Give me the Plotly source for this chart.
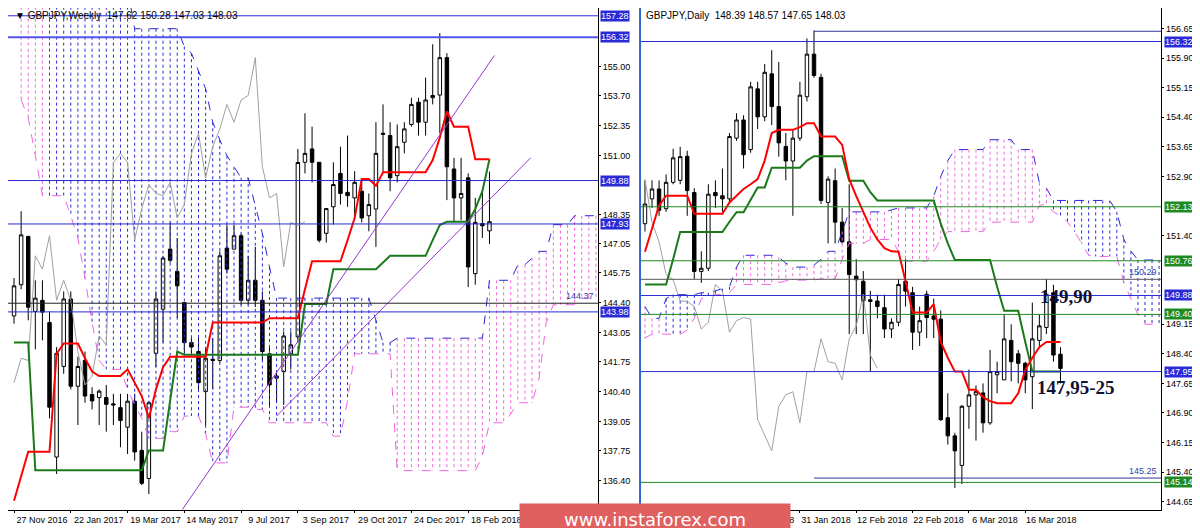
import plotly.graph_objects as go

# ---------------- weekly GBPJPY (left panel) ----------------
w_open = [143.8, 145.2, 147.37, 144.0, 144.5, 143.5, 137.46, 141.53, 144.56, 140.64,
          141.8, 140.27, 140.13, 140.13, 139.85, 139.68, 138.8, 139.97, 137.76, 136.5,
          142.12, 144.1, 146.8, 145.8, 144.4, 142.6, 142.2, 140.4, 141.85, 141.8,
          146.85, 146.8, 147.4, 144.5, 145.4, 144.5, 142.1, 141.0, 141.3, 142.1,
          142.86, 150.7, 151.3, 150.7, 147.51, 148.7, 150.2, 149.35, 149.1, 149.4,
          148.3, 148.6, 151.95, 151.9, 150.1, 151.6, 152.4, 153.4, 152.5, 153.6,
          153.72, 155.4, 150.4, 149.1, 150.0, 145.7, 147.95, 147.62]
w_high = [145.5, 148.5, 147.4, 145.4, 145.4, 144.0, 142.4, 144.9, 144.9, 141.97,
          142.2, 140.6, 140.5, 140.7, 140.3, 140.3, 140.3, 140.3, 138.6, 139.97,
          144.9, 146.5, 148.0, 147.3, 144.4, 142.8, 142.8, 142.4, 142.8, 146.7,
          147.9, 147.9, 147.5, 146.5, 146.9, 144.9, 142.4, 141.3, 143.1, 143.1,
          151.3, 152.9, 152.3, 150.7, 148.6, 150.7, 151.4, 151.9, 150.3, 149.9,
          149.3, 152.5, 153.3, 152.5, 152.4, 152.5, 153.6, 153.6, 154.5, 156.0,
          156.5, 155.6, 150.9, 150.9, 150.2, 149.1, 149.4, 150.28]
w_low = [143.45, 145.0, 143.6, 142.3, 142.7, 139.2, 136.7, 141.2, 140.5, 138.9,
         139.9, 139.6, 138.9, 138.6, 138.9, 137.9, 137.6, 137.3, 136.2, 135.8,
         141.5, 142.6, 146.2, 143.7, 142.1, 142.1, 140.5, 138.9, 140.5, 141.7,
         145.7, 146.8, 144.3, 144.3, 144.2, 141.8, 139.8, 139.9, 139.8, 141.4,
         142.7, 150.2, 149.8, 147.1, 147.1, 147.9, 148.8, 148.7, 148.2, 148.0,
         147.6, 146.9, 150.2, 149.4, 149.8, 151.1, 152.3, 151.9, 151.9, 153.3,
         152.0, 149.0, 148.0, 148.1, 145.1, 145.2, 147.3, 147.03]
w_close = [145.15, 147.44, 144.19, 144.6, 143.97, 139.7, 142.12, 144.56, 140.64, 141.53,
           140.2, 139.98, 140.42, 139.83, 139.8, 139.1, 139.97, 137.69, 136.28, 139.9,
           144.56, 146.4, 146.3, 145.15, 142.6, 142.4, 140.8, 141.9, 141.8, 146.5,
           145.9, 147.4, 144.5, 145.4, 144.5, 142.2, 140.7, 141.1, 142.9, 142.5,
           150.69, 151.1, 150.7, 147.2, 148.62, 149.7, 149.3, 149.2, 149.8, 148.2,
           148.8, 151.1, 152.0, 150.0, 151.4, 152.2, 153.3, 152.5, 153.5, 153.7,
           155.4, 150.5, 149.1, 149.3, 146.0, 148.0, 147.85, 148.03]
w_tenkan = [135.5, 136.6, 137.7, 137.7, 137.7, 137.7, 142.1, 142.56, 142.56, 142.56,
            141.9, 141.3, 141.1, 141.1, 141.1, 141.1, 141.4, 140.8, 140.2, 139.2,
            140.5, 141.5, 141.97, 141.97, 141.97, 141.97, 141.97, 141.97, 143.5, 143.5,
            143.5, 143.5, 143.5, 143.5, 143.5, 143.5, 143.7, 143.7, 143.7, 143.7,
            143.7, 145.0, 146.25, 146.25, 146.25, 146.25, 146.25, 147.2, 148.2, 149.95,
            149.95, 149.65, 150.25, 150.25, 150.25, 150.25, 150.25, 150.25, 150.25, 150.8,
            151.8, 152.98, 152.3, 152.3, 152.3, 150.84, 150.84, 150.84]
w_kijun = [142.6, 142.6, 142.6] + [136.87] * 16 + [137.76, 137.76, 137.76, 140.0, 142.2] \
          + [142.05] * 17 + [144.33] * 4 + [145.9] * 7 + [146.2] + [146.5] * 6 \
          + [147.2, 147.88, 148.03, 148.03, 148.03, 148.03, 148.6, 149.4, 150.84]
w_cloud_top = [158.5] * 16 + [156.7] * 7 + [155.9, 155.6, 154.8, 154.0, 152.5, 151.7, 151.0,
               150.5, 150.0, 150.0, 148.7, 147.5, 146.0] + [144.6] * 14 + [143.6, 142.6, 142.6] \
              + [142.8] * 13 + [145.4] * 4 + [146.1, 146.1, 146.4, 146.7, 146.7, 147.9, 147.9,
                                              147.9, 148.3, 148.3, 148.3, 148.3]
w_cloud_bot = [153.5, 152.7, 151.0, 149.2, 149.2, 149.2, 149.2, 148.3, 147.3, 145.5,
               143.5, 141.8, 141.4, 141.4, 141.4, 140.5, 139.8, 139.2, 138.3, 138.3,
               138.3, 138.6, 138.6, 139.3, 139.3, 139.3, 138.5, 137.2, 137.2, 137.2,
               139.7, 139.7, 139.7, 139.6, 139.6] + [139.0] * 9 + [138.4, 138.4, 140.0] \
              + [142.1] * 6 + [136.85] * 12 + [137.5, 139.0, 139.0, 139.0, 139.4, 139.9, 139.9,
                                               139.9, 141.0, 143.5, 144.3, 144.3, 144.3, 144.3,
                                               144.6, 144.6, 144.6]
w_cloud_start = 1
w_cloud_blue = (5, 53)
w_ticks = [0, 8, 16, 24, 32, 40, 48, 56, 64]
w_ticktext = ["27 Nov 2016", "22 Jan 2017", "19 Mar 2017", "14 May 2017", "9 Jul 2017",
              "3 Sep 2017", "29 Oct 2017", "24 Dec 2017", "18 Feb 2018"]
w_yticks = [136.40, 137.75, 139.05, 140.40, 141.75, 143.05, 144.40, 145.75, 147.05,
            148.35, 151.00, 152.35, 153.70, 155.00]
w_levels_blue = [157.28, 156.32, 149.88, 147.93, 143.98]
w_trend1 = ([23.5, 67.7], [135.0, 155.5])
w_trend2 = ([37, 72.8], [139.3, 150.9])

# ---------------- daily GBPJPY (right panel) ----------------
d_open = [151.70, 152.33, 152.58, 152.08, 152.75, 152.8, 153.41, 152.49, 150.49, 150.57,
          152.49, 152.41, 152.33, 153.87, 154.33, 153.58, 155.12, 154.41, 155.5, 154.67,
          153.66, 153.29, 153.87, 154.92, 156.0, 155.41, 152.24, 152.79, 151.74, 151.24,
          150.37, 150.24, 149.77, 149.74, 149.57, 149.03, 149.2, 150.24, 149.95, 148.95,
          149.91, 149.36, 149.28, 146.78, 146.32, 145.57, 147.07, 147.36, 147.41, 146.65,
          147.87, 147.74, 148.74, 148.4, 148.16, 147.82, 148.74, 149.07, 149.95, 148.39]
d_high = [152.8, 152.8, 152.8, 152.95, 153.6, 153.65, 153.55, 152.6, 151.0, 152.7,
          152.8, 153.1, 154.0, 154.5, 154.45, 155.3, 155.3, 155.75, 156.1, 155.8,
          154.0, 154.1, 155.3, 156.4, 156.6, 155.5, 152.9, 153.1, 152.1, 152.7,
          150.8, 150.5, 150.0, 149.9, 149.9, 149.3, 150.3, 150.8, 150.1, 149.6,
          150.0, 149.8, 149.5, 147.4, 146.4, 147.1, 148.0, 147.6, 147.65, 148.5,
          148.2, 149.4, 149.15, 148.5, 148.2, 149.7, 149.4, 150.3, 150.15, 148.57]
d_low = [151.5, 152.1, 151.9, 152.0, 152.7, 152.7, 151.9, 150.3, 150.2, 150.5,
         152.1, 152.0, 152.2, 153.8, 153.1, 153.5, 154.1, 154.3, 154.2, 153.4,
         152.8, 151.9, 153.8, 154.8, 155.4, 152.2, 151.2, 151.2, 151.2, 148.9,
         148.9, 148.9, 147.95, 149.3, 148.8, 148.8, 149.1, 149.6, 148.5, 148.6,
         148.8, 148.8, 146.7, 146.1, 145.0, 145.1, 146.5, 146.2, 146.4, 146.6,
         147.4, 147.74, 147.7, 147.65, 147.4, 147.0, 148.6, 148.9, 148.2, 147.65]
d_close = [152.20, 152.58, 152.04, 152.75, 153.37, 153.4, 152.54, 150.49, 150.57, 152.45,
           152.41, 152.33, 153.91, 154.33, 153.45, 155.17, 154.41, 155.54, 154.67, 153.75,
           153.29, 153.87, 154.96, 156.0, 155.46, 152.29, 152.83, 151.74, 151.24, 150.41,
           150.28, 149.74, 149.73, 149.6, 149.03, 149.2, 150.16, 149.99, 148.95, 149.24,
           149.32, 149.28, 146.73, 146.32, 145.94, 147.07, 147.36, 147.44, 146.65, 147.95,
           147.95, 148.78, 148.2, 148.16, 147.74, 148.78, 149.11, 149.91, 148.37, 148.03]
d_tenkan = [150.99, 151.6, 152.16, 152.41, 152.41, 152.41, 152.41, 151.95, 151.95, 151.95,
            151.95, 151.95, 152.24, 152.4, 152.58, 152.7, 152.83, 153.3, 154.0, 154.08,
            154.08, 154.08, 154.15, 154.25, 154.25, 153.91, 153.91, 153.91, 153.7, 152.83,
            152.4, 152.0, 151.6, 151.3, 151.08, 151.0, 150.99, 150.24, 149.45, 149.45,
            149.45, 149.66, 148.7, 148.3, 147.95, 147.95, 147.49, 147.49, 147.3, 147.2,
            147.15, 147.15, 147.15, 147.4, 147.99, 148.3, 148.57, 148.7, 148.7, 148.7]
d_kijun = [150.16] * 4 + [150.8] + [151.49] * 7 + [151.75, 151.99, 151.99, 152.3, 152.62,
           152.62] + [153.12] * 5 + [153.3] + [153.41] * 5 + [152.79] * 3 + [152.5] \
          + [152.29] * 9 + [151.7, 151.2] + [150.78] * 6 + [150.1, 149.49, 149.49, 149.49,
                                                          148.7] + [147.95] * 5
d_cloud_top = [149.6, 149.3, 149.3, 149.8, 149.9, 149.9, 149.9, 149.9, 149.95, 149.95,
               150.0, 150.05, 150.1, 150.6, 150.9, 150.9, 150.9, 150.9, 150.9, 150.85,
               150.7, 150.6, 150.6, 150.6, 150.65, 150.8, 151.0, 151.0, 151.5, 152.0,
               152.0, 152.0, 152.0, 152.0, 152.0, 152.05, 152.1, 152.1, 152.1, 152.1,
               152.1, 152.4, 152.9, 153.3, 153.58, 153.58, 153.58, 153.58, 153.58, 153.83,
               153.83, 153.83, 153.83, 153.58, 153.58, 153.58, 152.74, 152.6, 152.29, 152.29,
               152.29, 152.29, 152.29, 152.29, 152.29, 152.29, 152.29, 152.0, 151.3, 151.0,
               150.78, 150.78, 150.78, 150.78]
d_cloud_bot = [148.8, 148.9, 148.9, 148.9, 148.9, 148.9, 149.0, 149.3, 149.8, 149.85,
               149.9, 149.9, 149.95, 150.16, 150.16, 150.16, 150.16, 150.16, 150.16, 150.2,
               150.25, 150.27, 150.27, 150.27, 150.27, 150.3, 150.3, 150.3, 150.8, 151.2,
               151.2, 151.2, 151.3, 151.3, 151.3, 151.3, 151.0, 150.75, 150.75, 150.75,
               150.75, 151.0, 151.3, 151.5, 151.5, 151.5, 151.5, 151.5, 151.5, 151.74,
               151.74, 151.74, 151.74, 151.74, 151.74, 151.74, 152.16, 152.2, 152.0, 151.9,
               151.74, 151.5, 151.2, 150.9, 150.87, 150.87, 150.87, 150.87, 150.2, 149.8,
               149.4, 149.15, 149.15, 149.15]
d_cloud_blue = [(3, 12), (58, 73)]
d_ticks = [6, 14, 22, 30, 38, 46, 54]
d_ticktext = ["9 Jan 2018", "19 Jan 2018", "31 Jan 2018", "12 Feb 2018", "22 Feb 2018",
              "6 Mar 2018", "16 Mar 2018"]
d_yticks = [144.65, 145.40, 146.15, 146.90, 147.65, 148.40, 149.15, 151.40, 152.90,
            153.65, 154.40, 155.15, 155.90, 156.65]
d_levels_blue = [156.32, 149.88, 147.95]
d_levels_green = [152.13, 150.76, 149.40, 145.14]

BLUE = "#2a2ad6"
PINK = "#ee66dd"
GREEN_LVL = "#1f8a1f"
FONT = "Liberation Sans"

fig = go.Figure()


def add_cloud(top, bot, start, blue_ranges, xa, ya):
    for colour, want_blue in ((BLUE, True), (PINK, False)):
        xs, ys = [], []
        for k, (t, b) in enumerate(zip(top, bot)):
            i = start + k
            is_blue = any(lo <= i <= hi for lo, hi in blue_ranges)
            if is_blue == want_blue:
                xs += [i, i, None]
                ys += [t, b, None]
        fig.add_trace(go.Scatter(x=xs, y=ys, mode="lines", xaxis=xa, yaxis=ya,
                                 line=dict(color=colour, width=1, dash="dot"),
                                 hoverinfo="skip", showlegend=False))
    idx = list(range(start, start + len(top)))
    for arr, colour in ((top, BLUE), (bot, PINK)):
        fig.add_trace(go.Scatter(x=idx, y=arr, mode="lines", xaxis=xa, yaxis=ya,
                                 line=dict(color=colour, width=1, dash="dash"),
                                 hoverinfo="skip", showlegend=False))


def add_panel(o, h, l, c, tenkan, kijun, xa, ya):
    n = len(c)
    idx = list(range(n))
    # chikou: closes shifted back 26 bars
    fig.add_trace(go.Scatter(x=idx[:n - 26], y=c[26:], mode="lines", xaxis=xa, yaxis=ya,
                             line=dict(color="#a0a0a0", width=1), showlegend=False))
    fig.add_trace(go.Candlestick(x=idx, open=o, high=h, low=l, close=c, xaxis=xa, yaxis=ya,
                                 increasing=dict(fillcolor="white", line=dict(color="black", width=1)),
                                 decreasing=dict(fillcolor="black", line=dict(color="black", width=1)),
                                 whiskerwidth=0, showlegend=False))
    fig.add_trace(go.Scatter(x=idx, y=kijun, mode="lines", xaxis=xa, yaxis=ya,
                             line=dict(color="#1a7a1a", width=2), showlegend=False))
    fig.add_trace(go.Scatter(x=idx, y=tenkan, mode="lines", xaxis=xa, yaxis=ya,
                             line=dict(color="#ff0000", width=2), showlegend=False))


# left panel
add_cloud(w_cloud_top, w_cloud_bot, w_cloud_start, [w_cloud_blue], "x", "y")
add_panel(w_open, w_high, w_low, w_close, w_tenkan, w_kijun, "x", "y")
for tx, ty in (w_trend1, w_trend2):
    fig.add_trace(go.Scatter(x=tx, y=ty, mode="lines", xaxis="x", yaxis="y",
                             line=dict(color="#9933cc", width=1), showlegend=False))

# right panel
add_cloud(d_cloud_top, d_cloud_bot, 0, d_cloud_blue, "x2", "y2")
add_panel(d_open, d_high, d_low, d_close, d_tenkan, d_kijun, "x2", "y2")

L_DOM = [0, 0.4917]
R_DOM = [0.5267, 0.961]
Y_DOM = [0.05, 1]

shapes = []
annotations = []


def level(y, colour, xref, yref, right, x0=0, bg=None, width=1):
    shapes.append(dict(type="line", xref=xref + " domain", yref=yref, x0=x0, x1=1, y0=y, y1=y,
                       line=dict(color=colour, width=width)))
    if bg:
        annotations.append(dict(x=right, y=y, xref="paper", yref=yref, xanchor="left",
                                text="%.2f" % y, showarrow=False, bgcolor=bg,
                                font=dict(color="white", size=9, family=FONT), borderpad=0))


for v in w_levels_blue:
    level(v, "#5555ee" if v == 156.32 else BLUE, "x", "y", L_DOM[1] + 0.002, bg=BLUE,
          width=2 if v == 156.32 else 1)
level(144.37, "#222222", "x", "y", L_DOM[1])
annotations.append(dict(x=L_DOM[1] - 0.002, y=144.37, xref="paper", yref="y", xanchor="right",
                        yanchor="bottom", text="144.37", showarrow=False,
                        font=dict(color="#3344aa", size=9, family=FONT)))

for v in d_levels_blue:
    level(v, BLUE, "x2", "y2", R_DOM[1] + 0.002, bg=BLUE)
for v in d_levels_green:
    level(v, GREEN_LVL, "x2", "y2", R_DOM[1] + 0.002, bg=GREEN_LVL)
level(150.29, "#555555", "x2", "y2", R_DOM[1])
annotations.append(dict(x=R_DOM[1] - 0.002, y=150.29, xref="paper", yref="y2", xanchor="right",
                        yanchor="bottom", text="150.29", showarrow=False,
                        font=dict(color="#3344aa", size=9, family=FONT)))
for v in (156.58, 145.25):
    shapes.append(dict(type="line", xref="x2", yref="y2", x0=24, x1=80, y0=v, y1=v,
                       line=dict(color="#333399", width=1)))
annotations.append(dict(x=R_DOM[1] - 0.002, y=145.25, xref="paper", yref="y2", xanchor="right",
                        yanchor="bottom", text="145.25", showarrow=False,
                        font=dict(color="#3344aa", size=9, family=FONT)))

# titles and callouts
annotations += [
    dict(x=0.004, y=1, xref="paper", yref="paper", xanchor="left", yanchor="top", showarrow=False,
         text="▼ GBPJPY,Weekly  147.62 150.28 147.03 148.03",
         font=dict(size=10, family=FONT, color="black")),
    dict(x=R_DOM[0] + 0.003, y=1, xref="paper", yref="paper", xanchor="left", yanchor="top",
         showarrow=False, text="GBPJPY,Daily  148.39 148.57 147.65 148.03",
         font=dict(size=10, family=FONT, color="black")),
    dict(x=0.905, y=149.85, xref="paper", yref="y2", showarrow=False, text="<b>149,90</b>",
         yanchor="middle", font=dict(size=19, family="Liberation Serif", color="#111133")),
    dict(x=0.924, y=147.55, xref="paper", yref="y2", showarrow=False, text="<b>147,95-25</b>",
         yanchor="middle", font=dict(size=19, family="Liberation Serif", color="#111133")),
    dict(x=0.5392, y=0.0, xref="paper", yref="paper", xanchor="center", yanchor="bottom",
         showarrow=False, text="www.instaforex.com", bgcolor="#e06060",
         font=dict(size=18, family="DejaVu Sans", color="white"), borderpad=5, width=260),
]

axis_common = dict(showgrid=False, zeroline=False, showline=True, linecolor="black",
                   linewidth=1, ticks="outside", ticklen=2, tickcolor="black",
                   tickfont=dict(size=9, family=FONT, color="black"), mirror=False)

fig.update_layout(
    width=1200, height=528, margin=dict(l=0, r=0, t=0, b=0),
    paper_bgcolor="white", plot_bgcolor="white", showlegend=False,
    xaxis=dict(domain=L_DOM, range=[-0.85, 82.3], anchor="y", tickvals=w_ticks,
               ticktext=w_ticktext, rangeslider=dict(visible=False), ticklabelshift=28,
               tickangle=0, **axis_common),
    yaxis=dict(domain=Y_DOM, range=[135.1, 157.63], anchor="x", side="right",
               tickvals=w_yticks, tickformat=".2f", **axis_common),
    xaxis2=dict(domain=R_DOM, range=[-0.7, 73.3], anchor="y2", tickvals=d_ticks,
                ticktext=d_ticktext, rangeslider=dict(visible=False), ticklabelshift=26,
                tickangle=0, **axis_common),
    yaxis2=dict(domain=Y_DOM, range=[144.45, 157.17], anchor="x2", side="right",
                tickvals=d_yticks, tickformat=".2f", **axis_common),
    shapes=shapes + [dict(type="line", xref="paper", yref="paper", x0=R_DOM[0], x1=R_DOM[0],
                          y0=Y_DOM[0], y1=1, line=dict(color="#3366cc", width=2))],
    annotations=annotations,
)

fig.write_html("out.html")
